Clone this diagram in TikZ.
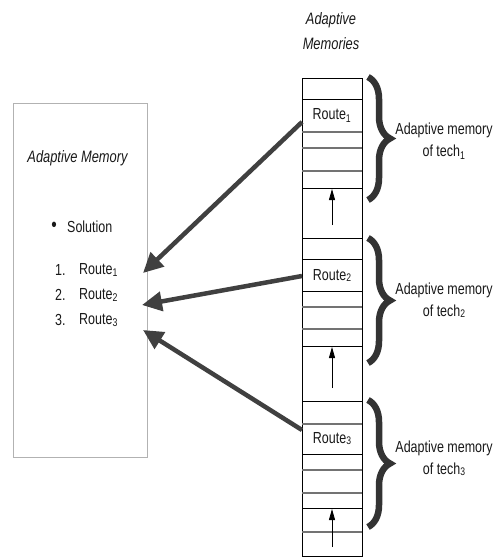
\documentclass[tikz,border=0pt]{standalone}
\usepackage{fontspec}
\setmainfont{Liberation Sans}[FakeStretch=0.78]
\usetikzlibrary{arrows.meta,decorations.pathreplacing}

\begin{document}
\begin{tikzpicture}[x=1pt,y=-1pt,
  txt/.style={font=\fontsize{16}{18}\selectfont, text=black!90, inner sep=0pt},
  ttl/.style={font=\fontsize{16.5}{18}\selectfont\itshape, text=black!90, inner sep=0pt},
  sepline/.style={draw=black, line width=1pt},
  softline/.style={draw=black!55, line width=1.4pt},
  bigarrow/.style={draw=black!75, line width=4.5pt,
    -{Triangle[length=20pt,width=19pt]}},
  uparrow/.style={draw=black, line width=0.8pt,
    -{Triangle[length=11pt,width=6pt]}},
  techbrace/.style={draw=black!80, line width=6.5pt,
    decorate, decoration={brace, amplitude=22pt}},
]
\useasboundingbox (0,0) rectangle (494,557);
\fill[white] (0,0) rectangle (494,557);

% left panel
\node[draw=black!30, line width=0.8pt, minimum width=134pt,
  minimum height=354pt, inner sep=0pt] (amem) at (80,280) {};
\node[ttl] (amtitle) at (77.5,158) {Adaptive Memory};
\node[txt, font=\fontsize{20}{20}\selectfont] (bul) at (54,227) {\textbullet};
\node[txt, anchor=west] (sol) at (67,227) {Solution};
\node[txt, anchor=west] (n1) at (55,270) {1.};
\node[txt, anchor=west] (n2) at (55,295) {2.};
\node[txt, anchor=west] (n3) at (55,320) {3.};
\node[txt, anchor=west] (l1) at (79,270) {Route\textsubscript{1}};
\node[txt, anchor=west] (l2) at (79,295) {Route\textsubscript{2}};
\node[txt, anchor=west] (l3) at (79,320) {Route\textsubscript{3}};

% header of the memory column
\node[ttl] (hd1) at (331,20) {Adaptive};
\node[ttl] (hd2) at (331,44) {Memories};

% memory column
\draw[sepline] (302,78) rectangle (362,556);
\foreach \yy in {132,148,171, 307,329, 424,470,493,532}
  \draw[softline] (302,\yy) -- (362,\yy);
\foreach \yy in {99,188, 238,259,291,346, 401,454,508}
  \draw[sepline] (302,\yy) -- (362,\yy);

\node[txt] (r1) at (332,115.5) {Route\textsubscript{1}};
\node[txt] (r2) at (332,275) {Route{\fontsize{11}{11}\selectfont\raisebox{-1pt}{2}}};
\node[txt] (r3) at (332,439) {Route{\fontsize{11}{11}\selectfont\raisebox{-1pt}{3}}};

% pointer arrows inside the free cells
\draw[uparrow] (332,225) -- (332,189);
\draw[uparrow] (332,388) -- (332,347);
\draw[uparrow] (332,547) -- (332,509);

% braces and their captions
\draw[techbrace] (368,77) -- (368,200);
\draw[techbrace] (368,238) -- (368,363);
\draw[techbrace] (368,400) -- (368,527);

\node[txt, align=center] (c1) at (444,141)
  {Adaptive memory\\[4pt]of tech\textsubscript{1}};
\node[txt, align=center] (c2) at (444,300)
  {Adaptive memory\\[4pt]of tech{\fontsize{11}{11}\selectfont\raisebox{-1pt}{2}}};
\node[txt, align=center] (c3) at (444,458)
  {Adaptive memory\\[4pt]of tech{\fontsize{11}{11}\selectfont\raisebox{-1pt}{3}}};

% transfer arrows from the column to the list
\coordinate (s1) at (302,122);
\coordinate (s2) at (302,276);
\coordinate (s3) at (302,430);
\coordinate (t1) at (143,273);
\coordinate (t2) at (142,305);
\coordinate (t3) at (143,330);
\draw[bigarrow] (s1) -- (t1);
\draw[bigarrow] (s2) -- (t2);
\draw[bigarrow] (s3) -- (t3);
\end{tikzpicture}
\end{document}
